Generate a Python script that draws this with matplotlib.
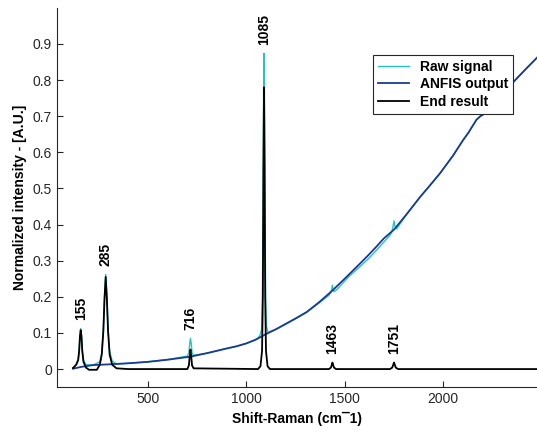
import matplotlib.pyplot as plt

plt.rcParams['font.family'] = ['Liberation Sans', 'DejaVu Sans']

# ANFIS baseline estimate
anfis_x = [119, 160, 220, 300, 400, 500, 600, 713, 800, 900, 950, 1000, 1050,
           1090, 1150, 1200, 1250, 1307, 1370, 1439, 1500, 1578, 1620, 1660,
           1700, 1751, 1820, 1883, 1930, 1985, 2050, 2100, 2130, 2154, 2170,
           2190, 2215, 2240, 2270, 2300, 2357, 2420, 2478]
anfis_y = [0.001, 0.006, 0.011, 0.013, 0.016, 0.020, 0.026, 0.034, 0.044, 0.057,
           0.063, 0.071, 0.082, 0.094, 0.110, 0.125, 0.140, 0.158, 0.185, 0.218,
           0.250, 0.292, 0.315, 0.338, 0.362, 0.386, 0.432, 0.476, 0.506, 0.542,
           0.590, 0.632, 0.655, 0.676, 0.690, 0.700, 0.708, 0.722, 0.740, 0.758,
           0.794, 0.830, 0.862]

# raw measured signal
raw_x = [119, 135, 145, 150, 154, 158, 162, 166, 172, 185, 220, 255, 265, 273,
         279, 285, 291, 297, 305, 318, 340, 400, 500, 600, 700, 708, 712, 716,
         720, 724, 732, 800, 900, 950, 1000, 1040, 1060, 1070, 1078, 1082, 1085,
         1088, 1090, 1092, 1095, 1098, 1102, 1110, 1150, 1200, 1250, 1307, 1370,
         1420, 1430, 1435, 1438, 1441, 1446, 1460, 1520, 1578, 1620, 1660, 1700,
         1730, 1740, 1746, 1751, 1756, 1764, 1820, 1883, 1930, 1985, 2050, 2100,
         2130, 2154, 2170, 2190, 2215, 2240, 2270, 2300, 2357, 2420, 2478]
raw_y = [0.003, 0.012, 0.025, 0.05, 0.09, 0.112, 0.09, 0.05, 0.025, 0.012, 0.011,
         0.02, 0.045, 0.11, 0.2, 0.262, 0.2, 0.11, 0.05, 0.022, 0.014, 0.016,
         0.020, 0.026, 0.036, 0.045, 0.07, 0.085, 0.07, 0.045, 0.038, 0.044, 0.057,
         0.063, 0.071, 0.079, 0.086, 0.094, 0.11, 0.2, 0.45, 0.78, 0.874, 0.78,
         0.45, 0.2, 0.12, 0.102, 0.110, 0.124, 0.139, 0.157, 0.183, 0.204, 0.212,
         0.222, 0.232, 0.222, 0.214, 0.220, 0.255, 0.284, 0.305, 0.328, 0.352,
         0.37, 0.38, 0.395, 0.41, 0.395, 0.388, 0.432, 0.476, 0.506, 0.542, 0.590,
         0.632, 0.655, 0.676, 0.690, 0.700, 0.708, 0.722, 0.740, 0.758, 0.794,
         0.830, 0.862]

# baseline-corrected spectrum
end_x = [119, 135, 145, 150, 154, 158, 162, 166, 172, 185, 200, 240, 255, 265,
         273, 279, 285, 291, 297, 305, 318, 340, 400, 700, 708, 712, 716, 720,
         724, 732, 1060, 1072, 1080, 1084, 1087, 1090, 1093, 1096, 1100, 1108,
         1120, 1420, 1430, 1435, 1438, 1441, 1446, 1456, 1730, 1742, 1747, 1751,
         1755, 1760, 1772, 2478]
end_y = [0.003, 0.012, 0.025, 0.05, 0.09, 0.108, 0.09, 0.05, 0.02, 0.004, -0.002,
         -0.002, 0.012, 0.04, 0.105, 0.195, 0.255, 0.195, 0.105, 0.04, 0.012, 0.002,
         0.0, 0.0, 0.01, 0.035, 0.054, 0.035, 0.01, 0.002, 0.0, 0.008, 0.05, 0.2,
         0.55, 0.78, 0.55, 0.2, 0.05, 0.008, 0.0, 0.0, 0.004, 0.012, 0.018, 0.012,
         0.004, 0.0, 0.0, 0.004, 0.012, 0.018, 0.012, 0.004, 0.0, 0.0]

peak_x = [158, 285, 716, 1090, 1438, 1751]
peak_top = [0.112, 0.262, 0.085, 0.874, 0.018, 0.018]
peak_labels = ['155', '285', '716', '1085', '1463', '1751']

fig = plt.figure(figsize=(5.37, 4.34), dpi=100)
ax = fig.add_axes([0.106, 0.108, 0.894, 0.874])

ax.plot(raw_x, raw_y, color='#22c4c4', lw=1.0, label='Raw signal')
ax.plot(anfis_x, anfis_y, color='#1a3a94', lw=1.3, label='ANFIS output')
ax.plot(end_x, end_y, color='black', lw=1.3, label='End result')

for px, py, lab in zip(peak_x, peak_top, peak_labels):
    ax.annotate(lab, (px, py), xytext=(0, 6), textcoords='offset points',
                rotation=90, ha='center', va='bottom', fontsize=10,
                fontweight='bold')

ax.set_xlim(37, 2478)
ax.set_ylim(-0.05, 1.0)
ax.set_xticks([500, 1000, 1500, 2000])
ax.set_yticks([0, 0.1, 0.2, 0.3, 0.4, 0.5, 0.6, 0.7, 0.8, 0.9])
ax.set_yticklabels(['0', '0.1', '0.2', '0.3', '0.4', '0.5', '0.6', '0.7', '0.8', '0.9'])
ax.tick_params(direction='in', length=4, labelsize=10, colors='#262626')
ax.spines['top'].set_visible(False)
ax.spines['right'].set_visible(False)
ax.spines['left'].set_color('#262626')
ax.spines['bottom'].set_color('#262626')

ax.set_xlabel('Shift-Raman (cm\u00af1)', fontsize=10, fontweight='bold')
ax.set_ylabel('Normalized intensity - [A.U.]', fontsize=10, fontweight='bold')

leg = ax.legend(loc='upper right', bbox_to_anchor=(0.95, 0.876),
                prop={'weight': 'bold', 'size': 10}, fancybox=False,
                edgecolor='#262626', framealpha=1, handlelength=2.2,
                borderpad=0.35, labelspacing=0.25, handletextpad=0.8,
                borderaxespad=0)
leg.get_frame().set_linewidth(0.8)

fig.savefig('out.png', dpi=100)
